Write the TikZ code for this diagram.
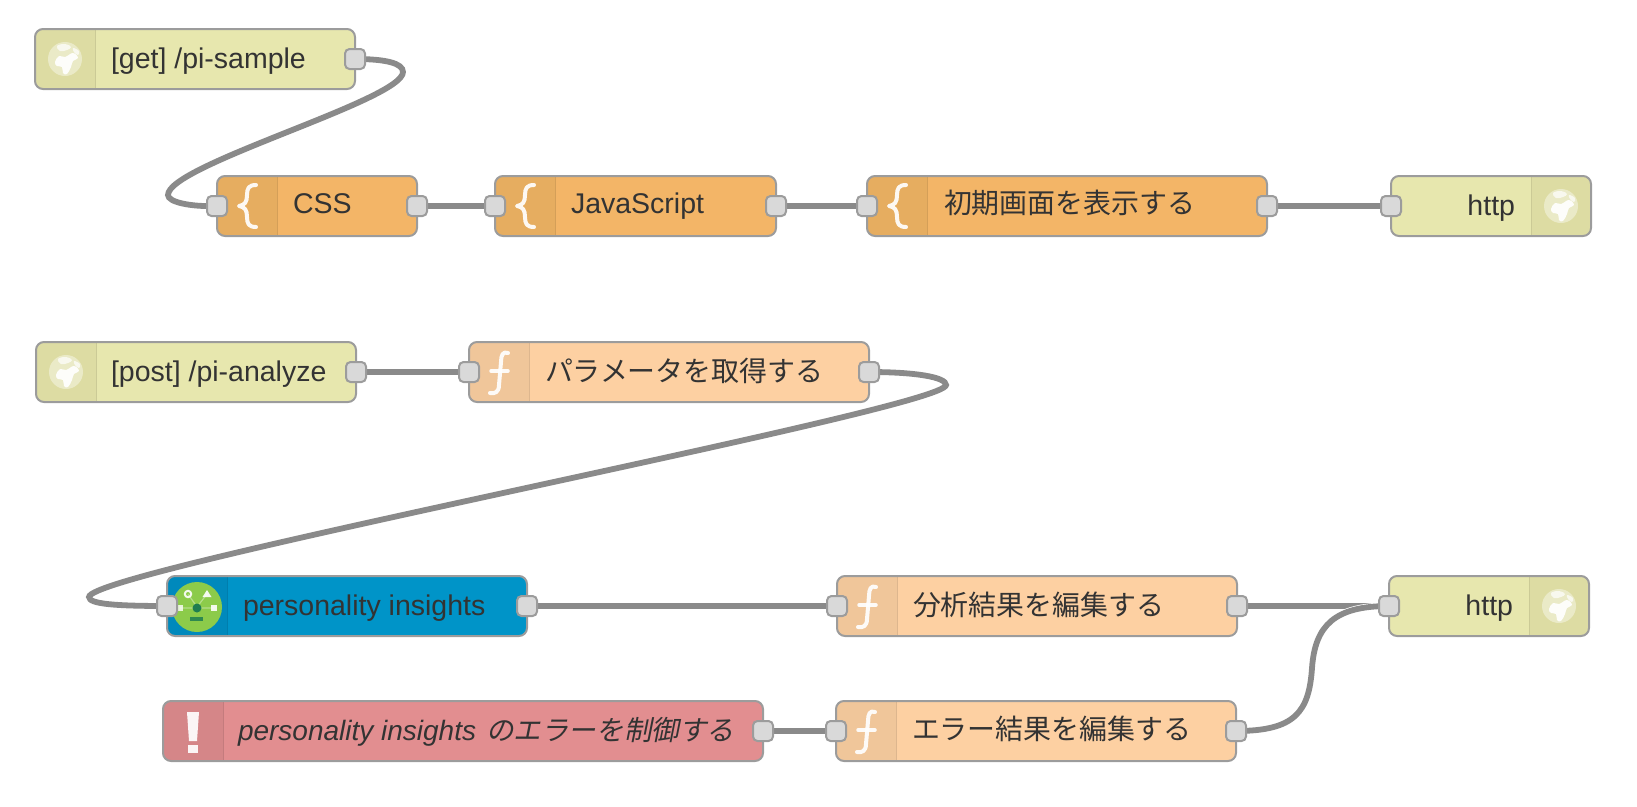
\documentclass[tikz,border=0pt]{standalone}
\usepackage{fontspec}
\setmainfont{Liberation Sans}
\newfontfamily\cjk[Scale=0.98]{Noto Sans CJK JP}
\newfontfamily\cjkit[FakeSlant=0.2,Scale=0.985]{Noto Sans CJK JP}
\definecolor{yfill}{HTML}{E7E7AE}\definecolor{ytint}{HTML}{DDDCA3}
\definecolor{ofill}{HTML}{F3B567}\definecolor{otint}{HTML}{E6AD60}
\definecolor{lfill}{HTML}{FDD0A2}\definecolor{ltint}{HTML}{F0C69A}
\definecolor{bfill}{HTML}{0094C8}\definecolor{btint}{HTML}{0089BC}
\definecolor{rfill}{HTML}{E28E90}\definecolor{rtint}{HTML}{D58688}
\definecolor{edge}{HTML}{9C9C9C}\definecolor{portc}{HTML}{D9D9D9}
\definecolor{wirec}{HTML}{8A8A8A}\definecolor{inkc}{HTML}{333333}
\definecolor{pigreen}{HTML}{8CCB4A}\definecolor{pidark}{HTML}{1E7D50}
\pgfdeclarelayer{wires}\pgfsetlayers{wires,main}
\tikzset{
 nbox/.style={rounded corners=8pt,anchor=north west,minimum height=60pt,inner sep=0pt,outer sep=0pt},
 portbox/.style={draw=edge,line width=2pt,fill=portc,rounded corners=4.5pt,minimum width=20pt,minimum height=20pt,inner sep=0pt,outer sep=0pt},
 lab/.style={anchor=base west,inner sep=0pt,outer sep=0pt,text=inkc,font=\fontsize{28.5}{32}\selectfont},
 labr/.style={lab,anchor=base east},
 labit/.style={lab,font=\fontsize{28}{32}\selectfont},
 wire/.style={draw=wirec,line width=5.8pt,preaction={draw=white,line width=7.2pt}},
 iconw/.style={draw=white,line width=4pt,line cap=round,line join=round,opacity=.92},
}
\newcommand{\flowbox}[6]{%
 \node[nbox,fill=#5,minimum width=#4pt] (#1) at (#2,#3) {};
 \begin{scope}
  \clip[rounded corners=8pt] (#1.north west) rectangle (#1.south east);
  \fill[#6] (#1.north west) rectangle ([xshift=60pt]#1.south west);
  \draw[#6!92!black,line width=1pt] ([xshift=60pt]#1.north west) -- ([xshift=60pt]#1.south west);
 \end{scope}
 \draw[edge,line width=2pt,rounded corners=8pt] (#1.north west) rectangle (#1.south east);
}
\newcommand{\flowboxr}[6]{%
 \node[nbox,fill=#5,minimum width=#4pt] (#1) at (#2,#3) {};
 \begin{scope}
  \clip[rounded corners=8pt] (#1.north west) rectangle (#1.south east);
  \fill[#6] ([xshift=-60pt]#1.north east) rectangle (#1.south east);
  \draw[#6!92!black,line width=1pt] ([xshift=-60pt]#1.north east) -- ([xshift=-60pt]#1.south east);
 \end{scope}
 \draw[edge,line width=2pt,rounded corners=8pt] (#1.north west) rectangle (#1.south east);
}
\newcommand{\globeicon}[1]{%
 \begin{scope}[shift={(#1)}]
  \fill[white,opacity=.4] (0,0) circle (17);
  \fill[white,opacity=.92] plot[smooth cycle,tension=.7] coordinates {(-10,3) (-6,-3) (0,-2) (8,-6) (13,-1) (8,2) (6,8) (2,15) (-2,14) (-3,8) (-8,7)};
  \fill[white,opacity=.7] plot[smooth cycle,tension=.7] coordinates {(-8,-13) (0,-15) (6,-12) (2,-9) (-5,-8)};
  \fill[white,opacity=.7] plot[smooth cycle,tension=.7] coordinates {(8,-11) (14,-8) (13,-4) (9,-7)};
 \end{scope}}
\newcommand{\braceicon}[1]{%
 \draw[iconw,shift={(#1.north west)}] (39,9) .. controls (32,9) and (30,12) .. (30,19) .. controls (30,26) and (28,29) .. (22,30) .. controls (28,31) and (30,34) .. (30,41) .. controls (30,48) and (32,51) .. (39,51);}
\newcommand{\funcicon}[1]{%
 \begin{scope}[shift={(#1.north west)}]
  \draw[iconw] (39,11) .. controls (34,9) and (32,13) .. (32,20) -- (30,43) .. controls (30,50) and (26,52) .. (21,51);
  \draw[iconw,line width=3.5pt] (22,29) -- (39,29);
 \end{scope}}
\begin{document}
\begin{tikzpicture}[x=1pt,y=-1pt]
\useasboundingbox (0,0) rectangle (1637,806);
% ---- first row
\flowbox{get}{35}{29}{320}{yfill}{ytint}
\flowbox{css}{217}{176}{200}{ofill}{otint}
\flowbox{js}{495}{176}{281}{ofill}{otint}
\flowbox{init}{867}{176}{400}{ofill}{otint}
\flowboxr{httpa}{1391}{176}{200}{yfill}{ytint}
% ---- second row
\flowbox{post}{36}{342}{320}{yfill}{ytint}
\flowbox{param}{469}{342}{400}{lfill}{ltint}
\flowbox{pi}{167}{576}{360}{bfill}{btint}
\flowbox{result}{837}{576}{400}{lfill}{ltint}
\flowboxr{httpb}{1389}{576}{200}{yfill}{ytint}
\flowbox{catch}{163}{701}{600}{rfill}{rtint}
\flowbox{err}{836}{701}{400}{lfill}{ltint}
% ---- icons
\globeicon{65,59}
\globeicon{66,372}
\globeicon{1561,206}
\globeicon{1559,606}
\braceicon{css}\braceicon{js}\braceicon{init}
\funcicon{param}\funcicon{result}\funcicon{err}
\begin{scope}[shift={(pi.north west)}]
 \fill[pigreen] (30,31) circle (25);
 \draw[white,opacity=.35,line width=1.2pt] (21,18) -- (30,31) -- (40,18) (13,32) -- (47,32);
 \draw[white,line width=2pt,opacity=.9] (21,18) circle (3.2);
 \fill[white,opacity=.9] (35.5,21) -- (40,14) -- (44.5,21) -- cycle;
 \fill[white,opacity=.8] (10,29) rectangle (16,35);
 \fill[white,opacity=.9] (44,29) rectangle (50,35);
 \fill[pidark] (30,32) circle (4.5);
 \fill[pidark,opacity=.85] (23,41) rectangle (36,44.5);
\end{scope}
\begin{scope}[shift={(catch.north west)}]
 \fill[white,opacity=.92] (24,11) -- (36,11) -- (34,40) -- (26,40) -- cycle;
 \fill[white,opacity=.92] (25,44) rectangle (35,52);
\end{scope}
% ---- labels
\node[lab] (tget) at (111,68) {[get] /pi-sample};
\node[lab] (tcss) at (293,213) {CSS};
\node[lab] (tjs) at (571,213) {JavaScript};
\node[lab] (tinit) at (944,213) {\cjk 初期画面を表示する};
\node[labr] (thttpa) at (1515,215) {http};
\node[lab] (tpost) at (111,381) {[post] /pi-analyze};
\node[lab] (tparam) at (545,381) {\cjk パラメータを取得する};
\node[lab] (tpi) at (243,615) {personality insights};
\node[lab] (tresult) at (913,615) {\cjk 分析結果を編集する};
\node[labr] (thttpb) at (1513,615) {http};
\node[labit] (tcatch) at (238,740) {\itshape personality insights\hspace{10pt}\cjkit のエラーを制御する};
\node[lab] (terr) at (912,739) {\cjk エラー結果を編集する};
% ---- ports
\foreach \n in {css,js,init,httpa,param,pi,result,httpb,err} {\node[portbox] (\n-in) at (\n.west) {};}
\foreach \n in {get,css,js,init,post,param,pi,result,catch,err} {\node[portbox] (\n-out) at (\n.east) {};}
% ---- wires
\coordinate (w1r) at (403,72);
\coordinate (w1l) at (168,195);
\coordinate (w2r) at (946,385);
\coordinate (w2l) at (89,597);
\coordinate (w3m) at (1312,668);
\begin{pgfonlayer}{wires}
\draw[wire] (get-out.center) .. controls (385,59) and (403,63) .. (w1r) .. controls (403,100) and (168,165) .. (w1l) .. controls (168,202) and (190,207) .. (css-in.center);
\draw[wire] (css-out.center) -- (js-in.center);
\draw[wire] (js-out.center) -- (init-in.center);
\draw[wire] (init-out.center) -- (httpa-in.center);
\draw[wire] (post-out.center) -- (param-in.center);
\draw[wire] (param-out.center) .. controls (915,372) and (946,377) .. (w2r) .. controls (946,409) and (89,570) .. (w2l) .. controls (89,604) and (115,606) .. (pi-in.center);
\draw[wire] (pi-out.center) -- (result-in.center);
\draw[wire] (result-out.center) -- (httpb-in.center);
\draw[wire] (err-out.center) .. controls (1295,731) and (1309,712) .. (w3m) .. controls (1315,625) and (1335,606) .. (httpb-in.center);
\draw[wire] (catch-out.center) -- (err-in.center);
\end{pgfonlayer}
\end{tikzpicture}
\end{document}
